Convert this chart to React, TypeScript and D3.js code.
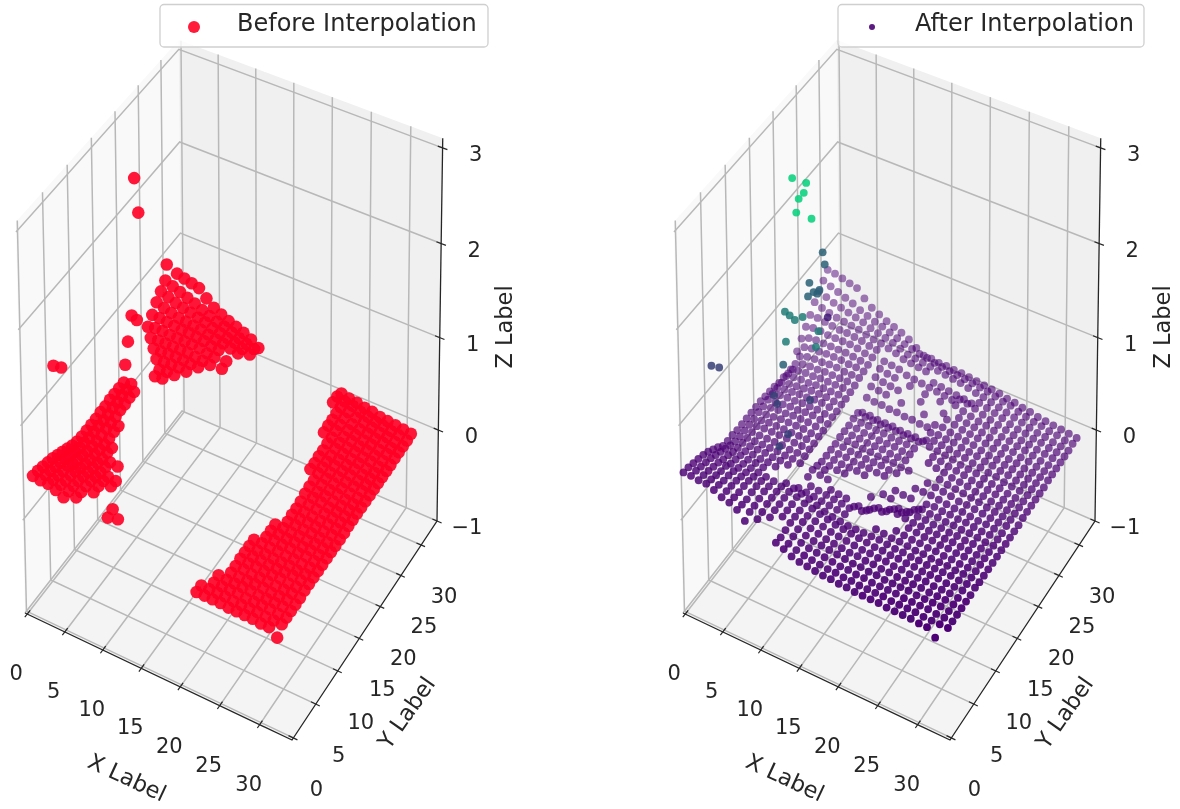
import React from "react";
import * as d3 from "d3";

const _ = null;
const xTicks = [0, 5, 10, 15, 20, 25, 30];
const yTicks = [0, 5, 10, 15, 20, 25, 30];
const zTicks = [-1, 0, 1, 2, 3];
const xLim = [-0.3, 34];
const yLim = [-0.3, 34];
const zLim = [-1, 3.1];

// surface heights in hundredths, one row per y (0..31), one value per x (0..33)
const surfaceRows = [
  [50,50,49,49,46,42,40,36,28,_,_,_,20,17,13,11,10,9,8,8,7,7,6,6,6,6,5,5,5,5,4,4,-3,_],
  [49,49,48,47,45,42,39,35,31,27,_,_,19,16,13,11,10,9,8,8,7,7,6,6,6,6,5,5,5,5,4,4,4,4],
  [47,47,46,45,43,41,38,34,31,28,26,_,20,17,14,12,11,10,9,8,8,7,7,6,6,6,6,5,5,5,5,4,4,4],
  [45,45,44,43,42,40,38,35,32,30,27,24,21,18,15,13,12,11,10,9,8,8,7,7,6,6,6,6,5,5,5,5,4,4],
  [43,43,42,42,40,38,37,35,33,30,27,24,21,19,16,14,12,11,10,9,9,8,8,7,7,6,6,6,6,5,5,5,4,4],
  [40,40,39,38,37,36,35,34,32,30,27,24,21,19,17,15,13,12,11,10,9,9,8,8,7,7,6,6,6,5,5,5,4,4],
  [36,37,37,36,35,34,33,32,31,29,27,25,22,20,18,16,14,13,12,11,10,9,9,8,8,7,7,6,6,6,5,5,5,4],
  [32,34,34,34,33,33,32,_,_,26,24,22,20,17,14,12,11,10,10,10,10,10,9,8,8,7,7,6,6,6,6,5,5,5],
  [27,31,32,32,32,31,31,30,_,_,18,17,16,15,14,13,12,_,_,_,11,10,9,9,8,7,7,6,6,6,5,5,5,4],
  [26,29,31,31,31,31,30,30,29,_,_,17,16,15,14,13,12,_,_,_,_,_,10,9,8,8,7,7,6,6,5,5,5,4],
  [26,28,30,30,30,30,30,29,29,28,17,_,_,14,13,12,7,6,11,_,_,_,_,10,9,8,8,7,7,6,6,5,5,4],
  [25,28,30,30,30,30,30,29,29,29,18,16,15,_,_,_,1,0,6,6,12,11,10,9,9,8,8,7,7,6,6,5,5,4],
  [25,28,30,31,31,31,31,30,30,30,16,15,_,_,_,_,_,8,0,0,6,6,10,9,9,8,8,7,7,6,6,5,5,4],
  [25,28,30,31,31,31,31,31,31,30,14,13,12,12,_,_,_,_,8,7,0,0,6,10,9,9,8,8,7,7,6,5,5,4],
  [25,29,30,31,32,32,32,32,31,31,14,13,12,12,12,11,_,_,_,9,8,8,0,9,10,9,9,8,8,7,6,6,5,4],
  [25,29,31,32,32,33,33,33,32,31,14,13,13,12,12,12,11,11,_,_,_,12,12,12,11,10,9,9,8,7,7,6,5,4],
  [25,30,31,32,33,33,34,34,33,32,14,14,13,13,12,12,12,11,11,_,_,_,15,14,13,12,10,10,9,8,7,6,6,4],
  [24,30,32,33,33,34,34,34,33,33,15,14,14,13,13,12,12,12,11,11,_,_,_,16,14,13,12,11,10,8,7,6,6,4],
  [23,30,32,33,34,34,35,35,34,33,15,14,14,13,13,13,12,12,12,_,_,20,18,17,15,14,13,11,10,8,7,6,6,5],
  [22,30,32,33,34,35,35,35,34,34,15,15,14,14,13,13,13,12,12,_,_,20,19,17,16,15,13,12,10,9,7,6,6,5],
  [20,31,33,34,34,35,35,35,35,34,16,15,15,14,14,13,13,13,12,_,21,20,19,18,16,15,14,12,10,9,7,6,6,5],
  [20,32,34,35,35,36,36,36,36,35,16,15,15,14,14,14,13,13,13,18,21,20,19,18,17,15,14,12,11,9,8,7,6,5],
  [18,32,35,36,36,37,37,37,37,36,10,10,9,9,9,8,8,8,7,20,21,20,20,18,17,16,14,13,11,10,8,7,6,5],
  [16,34,37,38,38,39,39,38,38,38,20,19,19,18,18,17,17,16,16,22,23,21,20,19,18,16,14,13,11,10,8,7,6,5],
  [30,38,40,40,41,41,41,40,40,39,26,25,24,_,22,_,_,20,_,_,25,23,21,20,19,17,15,13,11,10,8,7,6,6],
  [38,42,43,43,43,43,43,42,41,40,30,28,27,26,_,_,24,_,_,22,_,24,22,21,19,17,15,13,12,10,9,7,6,6],
  [45,47,47,46,46,46,46,45,43,42,33,31,30,_,28,_,26,_,25,_,28,25,23,21,20,18,15,14,12,11,9,7,6,6],
  [52,52,51,50,49,49,48,47,45,44,35,34,33,30,29,28,27,26,25,24,28,27,25,22,20,18,16,14,12,11,9,8,7,6],
  [60,57,55,53,52,51,50,48,46,45,43,41,38,37,36,35,26,25,24,23,22,21,25,23,21,19,16,14,13,11,10,8,7,6],
  [66,63,60,58,56,54,52,49,47,45,43,40,37,36,35,34,33,32,31,30,28,26,25,23,21,19,17,15,13,11,10,8,7,6],
  [72,69,66,63,60,56,53,50,48,45,42,39,37,35,34,32,31,30,29,28,27,26,25,23,21,20,17,15,13,12,10,9,7,7],
  [78,77,75,73,71,63,56,52,48,45,42,38,32,27,27,26,26,25,25,24,23,22,21,20,18,17,15,14,12,11,10,9,8,7],
];

// x ranges of the same rows that exist before interpolation
const beforeSpans = [
  [[1,5],[22,32]],[[1,6],[22,32]],[[1,6],[23,32]],[[1,7],[23,32]],[[1,7],[24,32]],[[1,8],[24,32]],
  [[1,8],[24,32]],[[1,6],[24,32]],[[1,7],[24,32]],[[1,5],[24,32]],[[1,5],[25,32]],[[1,4],[25,32]],
  [[1,4],[25,32]],[[1,4],[26,32]],[[1,3],[26,32]],[[1,3],[26,32]],[[1,3],[26,32]],[[1,3],[26,32]],
  [[1,3],[26,32]],[[1,2],[26,32]],[[25,32]],[[4,5],[25,32]],[[4,6],[25,32]],[[3,7],[25,32]],
  [[2,8],[25,32]],[[1,9],[24,32]],[[0,10],[24,32]],[[0,10],[24,32]],[[0,11],[24,32]],[[0,12],[23,32]],
  [[0,12],[23,32]],[[1,12],[23,32]],
];

const beforeExtras = [[10.1,2,35],[9.9,1.3,30],[10.7,2.1,26]];

// stray points: [x, y, z, also in the before panel]
const greenPoints = [[1.7,20.7,2.42,1],[3.5,20.8,2.42,0],[4.1,19.3,2.42,0],[4.1,18.2,2.42,0],[4.7,16.7,2.38,1],[6.7,16.7,2.38,0]];
const tealPoints = [[3.2,17.4,1.2,1],[3.2,16.4,1.3,0],[5,17.3,1.25,0],[4.7,16.1,1.28,1],[7.7,16.3,1.25,0],[4.8,14,1.18,1],[8.7,14.1,1.25,0]];
const steelPoints = [[4.8,22.1,1.65,0],[5,22.2,1.52,1],[2.1,23.5,1.15,0],[3.7,23.1,1.15,0],[2.9,23.1,1.1,0],[3.4,23.1,1.1,0],[2.7,22.2,1.1,0],[4.4,14,0.92,1]];
const indigoPoints = [[0,6,1.25,1],[0.9,6.2,1.25,1],[5,11,0.8,0],[6,10.1,0.8,0],[8.9,12.4,0.8,0],[7.2,10.4,0.5,0],[7.3,8.4,0.5,0]];
const violetPoints = [[4.1,24.2,0.8,0]];
const strayGroups = [
  { points: greenPoints, shade: 1 },
  { points: tealPoints, shade: 0.6 },
  { points: steelPoints, shade: 0.46 },
  { points: indigoPoints, shade: 0.3 },
  { points: violetPoints, shade: 0.12 },
];

// box corners on the page, left panel
const floorQuad = [[25, 613], [292, 740], [437, 521], [182, 411]];
// top corners with their (u, v) position on the box
const topCorners = [
  { u: 0, v: 0, at: [12, 217] },
  { u: 0, v: 1, at: [182, 43] },
  { u: 1, v: 1, at: [443, 140] },
];
const panelGap = 658;

const sx = d3.scaleLinear().domain(xLim).range([0, 1]);
const sy = d3.scaleLinear().domain(yLim).range([0, 1]);
const sz = d3.scaleLinear().domain(zLim).range([0, 1]);

function makeCamera() {
  const [[x0, y0], [x1, y1], [x2, y2], [x3, y3]] = floorQuad;
  const dx1 = x1 - x2, dx2 = x3 - x2, ax = x0 - x1 + x2 - x3;
  const dy1 = y1 - y2, dy2 = y3 - y2, ay = y0 - y1 + y2 - y3;
  const det = dx1 * dy2 - dx2 * dy1;
  const g = (ax * dy2 - dx2 * ay) / det;
  const h = (dx1 * ay - ax * dy1) / det;
  const a = x1 - x0 + g * x1, b = x3 - x0 + h * x3;
  const d = y1 - y0 + g * y1, e = y3 - y0 + h * y3;
  // vertical column, least squares over the top corners
  const rows = topCorners.map(({ u, v, at }) => {
    const den = g * u + h * v + 1;
    return {
      X: at[0], Y: at[1],
      bx: at[0] * den - (a * u + b * v + x0),
      by: at[1] * den - (d * u + e * v + y0),
    };
  });
  const mX = d3.mean(rows, (t) => t.X) as number, mY = d3.mean(rows, (t) => t.Y) as number;
  const mBx = d3.mean(rows, (t) => t.bx) as number, mBy = d3.mean(rows, (t) => t.by) as number;
  const top = d3.sum(rows, (t) => (t.X - mX) * (t.bx - mBx) + (t.Y - mY) * (t.by - mBy));
  const bot = d3.sum(rows, (t) => (t.X - mX) ** 2 + (t.Y - mY) ** 2);
  const r = -top / bot;
  const p = mBx + r * mX, q = mBy + r * mY;
  return (u: number, v: number, w: number) => {
    const c = g * u + h * v + 1 + r * w;
    return [(a * u + b * v + x0 + p * w) / c, (d * u + e * v + y0 + q * w) / c];
  };
}
const camera = makeCamera();
const project = (x: number, y: number, z: number) => camera(sx(x), sy(y), sz(z));

const depthOf = (x: number, y: number, z: number) =>
  -0.5 * sx(x) + 0.866 * sy(y) - 0.8 * sz(z);
const depthAlpha = d3.scaleLinear().domain([-0.69, 0.52]).range([1, 0.46]).clamp(true);
const strayColor = d3.scaleLinear<string>().domain([0, 1]).range(["#4b0074", "#00d07a"]).interpolate(d3.interpolateRgb);

type Dot = { x: number; y: number; z: number; color: string; minAlpha: number };

const RED = "#ff0024";
const PURPLE = "#4b0074";
const afterDots: Dot[] = [];
const beforeDots: Dot[] = [];
surfaceRows.forEach((row, y) =>
  row.forEach((v, x) => {
    if (v === null) return;
    afterDots.push({ x, y, z: v / 100, color: PURPLE, minAlpha: 0 });
    if (beforeSpans[y].some(([a, b]) => x >= a && x <= b))
      beforeDots.push({ x, y, z: v / 100, color: RED, minAlpha: 0 });
  })
);
beforeExtras.forEach(([x, y, v]) => beforeDots.push({ x, y, z: v / 100, color: RED, minAlpha: 0 }));
strayGroups.forEach(({ points, shade }) =>
  points.forEach(([x, y, z, both]) => {
    afterDots.push({ x, y, z, color: strayColor(shade), minAlpha: 0.85 });
    if (both) beforeDots.push({ x, y, z, color: RED, minAlpha: 0 });
  })
);

const pathOf = (pts: number[][]) => d3.line()(pts as [number, number][]) as string;
const TEXT = "#262626";
const FONT = "DejaVu Sans";

function Panel({ dx, dots, r, faded, legend, legendX, legendW, swatch, swatchR }: any) {
  const [x0, x1] = xLim, [y0, y1] = yLim, [z0, z1] = zLim;
  const sorted = [...dots].sort((a: Dot, b: Dot) => depthOf(b.x, b.y, b.z) - depthOf(a.x, a.y, a.z));
  return (
    <g transform={`translate(${dx},0)`}>
      <path d={pathOf([project(x0, y0, z0), project(x0, y1, z0), project(x0, y1, z1), project(x0, y0, z1)]) + "Z"} fill="#f9f9f9" />
      <path d={pathOf([project(x0, y1, z0), project(x1, y1, z0), project(x1, y1, z1), project(x0, y1, z1)]) + "Z"} fill="#f0f0f0" />
      <path d={pathOf([project(x0, y0, z0), project(x1, y0, z0), project(x1, y1, z0), project(x0, y1, z0)]) + "Z"} fill="#f4f4f4" />
      <g fill="none" stroke="#b8b8b8" strokeWidth={1.5}>
        {xTicks.map((t) => (
          <path key={"gx" + t} d={pathOf([project(t, y0, z0), project(t, y1, z0), project(t, y1, z1)])} />
        ))}
        {yTicks.map((t) => (
          <path key={"gy" + t} d={pathOf([project(x1, t, z0), project(x0, t, z0), project(x0, t, z1)])} />
        ))}
        {zTicks.map((t) => (
          <path key={"gz" + t} d={pathOf([project(x0, y0, t), project(x0, y1, t), project(x1, y1, t)])} />
        ))}
      </g>
      <path
        d={pathOf([project(x0, y0, z0), project(x1, y0, z0), project(x1, y1, z0), project(x1, y1, z1)])}
        fill="none" stroke={TEXT} strokeWidth={1.3}
      />
      <g fill="none" stroke={TEXT} strokeWidth={1.2}>
        {xTicks.map((t) => <path key={"tx" + t} d={pathOf([project(t, y0 + 0.6, z0), project(t, y0 - 0.5, z0)])} />)}
        {yTicks.map((t) => <path key={"ty" + t} d={pathOf([project(x1 - 0.6, t, z0), project(x1 + 0.5, t, z0)])} />)}
        {zTicks.map((t) => <path key={"tz" + t} d={pathOf([project(x1 - 0.6, y1, t), project(x1 + 0.6, y1, t)])} />)}
      </g>
      <g>
        {sorted.map((d: Dot, i: number) => {
          const [cx, cy] = project(d.x, d.y, d.z);
          const alpha = faded ? Math.max(depthAlpha(depthOf(d.x, d.y, d.z)), d.minAlpha) : 0.9;
          return <circle key={i} cx={cx} cy={cy} r={r} fill={d.color} fillOpacity={alpha} />;
        })}
      </g>
      <g fontFamily={FONT} fontSize={21} fill={TEXT} textAnchor="middle">
        {xTicks.map((t) => {
          const [px, py] = project(t, y0, z0);
          return <text key={"lx" + t} x={px - 11} y={py + 66}>{t}</text>;
        })}
        {yTicks.map((t) => {
          const [px, py] = project(x1, t, z0);
          return <text key={"ly" + t} x={px + 23} y={py + 58}>{t}</text>;
        })}
        {zTicks.map((t) => {
          const [px, py] = project(x1, y1, t);
          return <text key={"lz" + t} x={px + (t < 0 ? 30 : 33)} y={py + 13}>{t < 0 ? "\u2212" + -t : t}</text>;
        })}
      </g>
      <g fontFamily={FONT} fontSize={22.5} fill={TEXT} textAnchor="middle">
        <text transform="translate(127,778) rotate(25)" dy={7}>X Label</text>
        <text transform="translate(407,713) rotate(-55)" dy={7}>Y Label</text>
        <text transform="translate(505,327) rotate(-90)" dy={7}>Z Label</text>
      </g>
      <rect x={legendX} y={4.5} width={legendW} height={42.5} rx={4} fill="#fff" fillOpacity={0.8} stroke="#cfcfcf" strokeWidth={1.3} />
      <circle cx={legendX + 34} cy={27} r={swatchR} fill={swatch} fillOpacity={0.9} />
      <text x={legendX + 77} y={31} fontFamily={FONT} fontSize={24} fill={TEXT}>{legend}</text>
    </g>
  );
}

export default function App() {
  return (
    <svg width={1180} height={809} style={{ position: "absolute", left: 0, top: 0, display: "block", background: "#fff" }}>
      <defs>
        <filter id="soft" filterUnits="userSpaceOnUse" x={0} y={0} width={1180} height={809}>
          <feGaussianBlur stdDeviation={0.45} />
        </filter>
      </defs>
      <g filter="url(#soft)">
        <Panel dx={0} dots={beforeDots} r={6.3} faded={false} legend="Before Interpolation" legendX={160} legendW={328} swatch={RED} swatchR={6} />
        <Panel dx={panelGap} dots={afterDots} r={3.9} faded={true} legend="After Interpolation" legendX={180} legendW={306} swatch={PURPLE} swatchR={3} />
      </g>
    </svg>
  );
}
